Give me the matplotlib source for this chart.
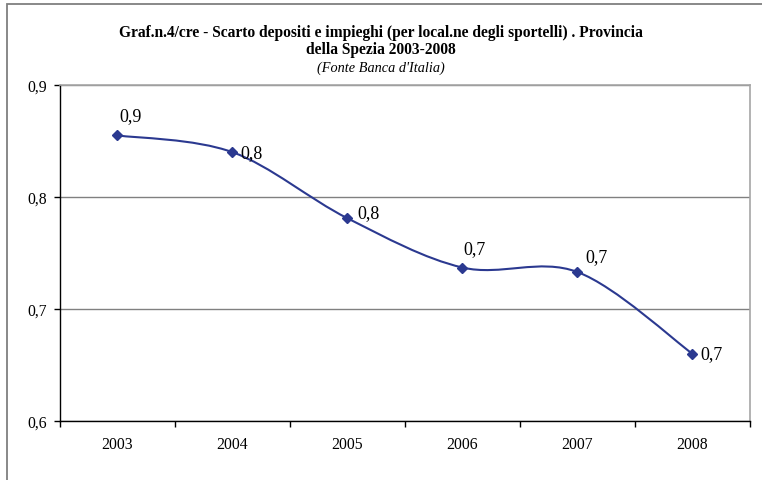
import numpy as np
import matplotlib
matplotlib.use("Agg")
import matplotlib.pyplot as plt
from matplotlib.path import Path
from matplotlib.patches import PathPatch, Rectangle
from matplotlib.ticker import FixedLocator, FuncFormatter

plt.rcParams['font.family'] = ['Liberation Serif', 'DejaVu Serif']

# scarto depositi/impieghi per anno
anni = ['2003', '2004', '2005', '2006', '2007', '2008']
scarto = [0.855, 0.840, 0.781, 0.737, 0.733, 0.660]
# spostamento delle etichette dati (punti)
offs = [(1.4, 14.4), (5.8, 0.0), (7.2, 4.3), (0.7, 13.7), (5.8, 10.8), (5.8, 0.0)]

blu = '#2B3990'


def curva_smussata(x, y):
    # spline tipo Excel: bezier cubiche con tangenti Catmull-Rom
    pts = np.column_stack([x, y]).astype(float)
    n = len(pts)
    verts = [pts[0]]
    codes = [Path.MOVETO]
    for i in range(n - 1):
        p0 = pts[i - 1] if i > 0 else pts[i]
        p1 = pts[i]
        p2 = pts[i + 1]
        p3 = pts[i + 2] if i + 2 < n else pts[i + 1]
        c1 = p1 + (p2 - p0) / 6.0
        c2 = p2 - (p3 - p1) / 6.0
        verts += [c1, c2, p2]
        codes += [Path.CURVE4] * 3
    return Path(verts, codes)


fig = plt.figure(figsize=(7.62, 4.81), dpi=100)
ax = fig.add_axes([60 / 762, 59 / 481, 690 / 762, 336 / 481])

# cornice esterna del grafico
fig.patches.append(Rectangle((7 / 762, -0.1), 2.0, (476 / 481) + 0.1,
                             transform=fig.transFigure, fill=False,
                             edgecolor='#7f7f7f', lw=1.3))

x = np.arange(len(anni))
ax.add_patch(PathPatch(curva_smussata(x, scarto), fill=False,
                       edgecolor=blu, lw=1.5, zorder=3))
ax.plot(x, scarto, linestyle='none', marker='D', markersize=4.8,
        color=blu, zorder=4)

for xi, v, (dx, dy) in zip(x, scarto, offs):
    ax.annotate(f"{v:.1f}".replace('.', ','), (xi, v), xytext=(dx, dy),
                textcoords='offset points', ha='left', va='center',
                fontsize=13, color='black')

ax.set_xlim(-0.5, len(anni) - 0.5)
ax.set_ylim(0.6, 0.9)

ax.set_xticks(x)
ax.set_xticklabels(anni, fontsize=11.3)
ax.xaxis.set_minor_locator(FixedLocator(np.arange(-0.5, len(anni), 1.0)))
ax.tick_params(axis='x', which='major', length=0, pad=11)
ax.tick_params(axis='x', which='minor', length=4, width=1, direction='out')

ax.set_yticks([0.6, 0.7, 0.8, 0.9])
ax.yaxis.set_major_formatter(FuncFormatter(lambda v, p: f"{v:.1f}".replace('.', ',')))
ax.tick_params(axis='y', length=4, width=1, direction='out', labelsize=11.3, pad=5)

ax.grid(axis='y', color='#808080', lw=1)
ax.set_axisbelow(True)
for s in ['left', 'bottom']:
    ax.spines[s].set_color('black')
    ax.spines[s].set_linewidth(1)
for s in ['top', 'right']:
    ax.spines[s].set_color('#a6a6a6')
    ax.spines[s].set_linewidth(1.2)

fig.text(381 / 762, 1 - 33 / 481,
         "Graf.n.4/cre - Scarto depositi e impieghi (per local.ne degli sportelli) . Provincia",
         ha='center', va='center', fontsize=11.2, fontweight='bold')
fig.text(381 / 762, 1 - 50 / 481, "della Spezia 2003-2008",
         ha='center', va='center', fontsize=11.2, fontweight='bold')
fig.text(381 / 762, 1 - 68 / 481, "(Fonte Banca d'Italia)",
         ha='center', va='center', fontsize=10.3, style='italic')

fig.savefig('out.png', dpi=100, facecolor='white')
